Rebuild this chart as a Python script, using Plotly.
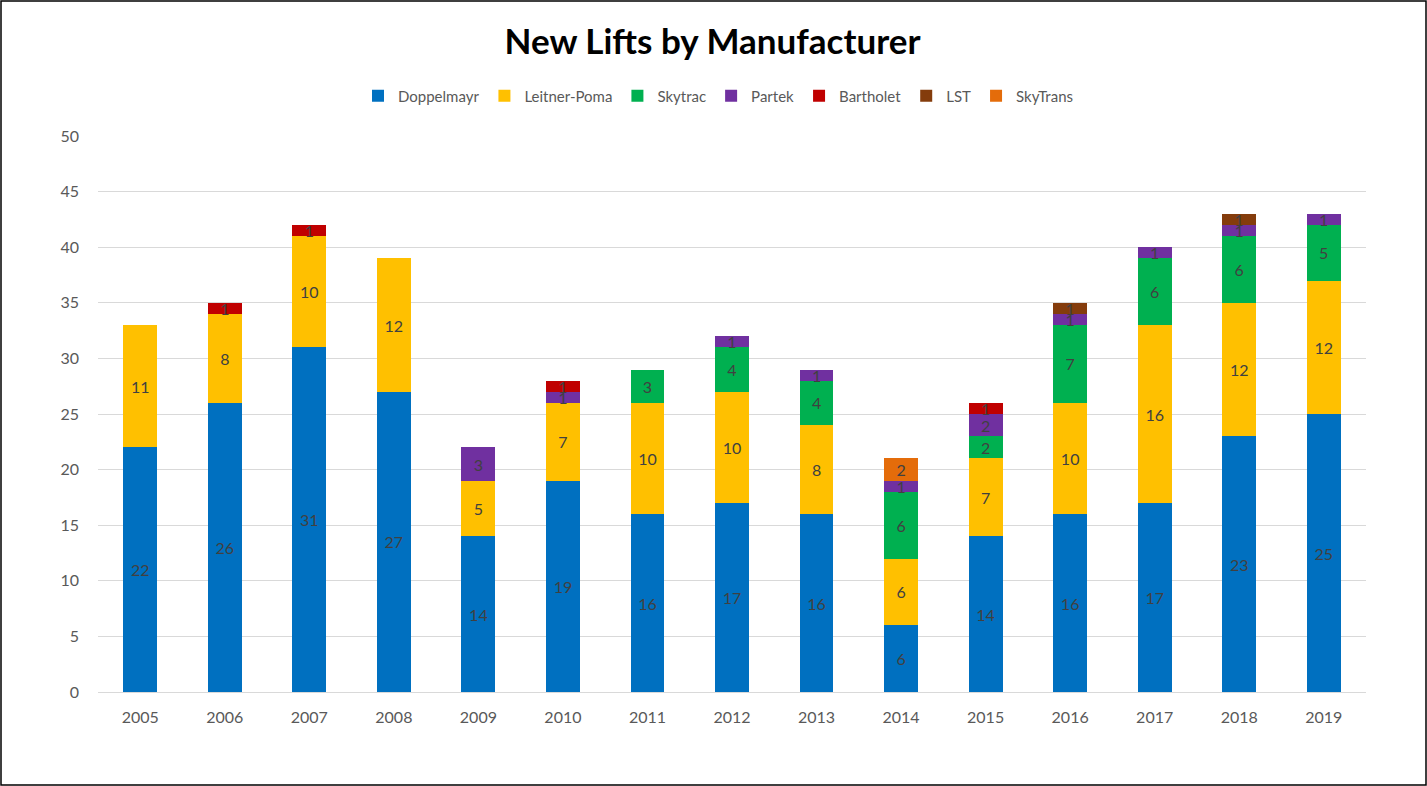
import plotly.graph_objects as go

years = ["2005","2006","2007","2008","2009","2010","2011","2012","2013","2014","2015","2016","2017","2018","2019"]
doppelmayr   = [22, 26, 31, 27, 14, 19, 16, 17, 16, 6, 14, 16, 17, 23, 25]
leitner_poma = [11, 8, 10, 12, 5, 7, 10, 10, 8, 6, 7, 10, 16, 12, 12]
skytrac      = [None, None, None, None, None, None, 3, 4, 4, 6, 2, 7, 6, 6, 5]
partek       = [None, None, None, None, 3, 1, None, 1, 1, 1, 2, 1, 1, 1, 1]
bartholet    = [None, 1, 1, None, None, 1, None, None, None, None, 1, None, None, None, None]
lst          = [None, None, None, None, None, None, None, None, None, None, None, 1, None, 1, None]
skytrans     = [None, None, None, None, None, None, None, None, None, 2, None, None, None, None, None]

series = [
    ("Doppelmayr", doppelmayr, "#0070C0"),
    ("Leitner-Poma", leitner_poma, "#FFC000"),
    ("Skytrac", skytrac, "#00B050"),
    ("Partek", partek, "#7030A0"),
    ("Bartholet", bartholet, "#C00000"),
    ("LST", lst, "#843C0C"),
    ("SkyTrans", skytrans, "#E46C0A"),
]

font = "Lato"
fig = go.Figure()
for name, vals, color in series:
    fig.add_trace(go.Bar(
        name=name, x=years, y=vals,
        marker=dict(color=color, line=dict(width=0)),
        text=[("" if v is None else str(v)) for v in vals],
        textposition="inside", insidetextanchor="middle",
        textfont=dict(color="#404040", size=16, family=font),
        textangle=0,
    ))

fig.update_layout(
    barmode="stack",
    bargap=0.6,
    width=1427, height=786,
    margin=dict(l=98, r=61, t=136, b=94, autoexpand=False),
    paper_bgcolor="white", plot_bgcolor="white",
    font=dict(family=font, color="#595959", size=16),
    title=dict(text="<b>New Lifts by Manufacturer</b>", x=712.5/1427, xanchor="center",
               y=1 - 42/786, yanchor="middle",
               font=dict(size=35, color="#000000", family=font)),
    legend=dict(orientation="h", x=(718.5-98)/1268, xanchor="center",
                y=1 + (136-96)/556, yanchor="middle",
                font=dict(size=15, color="#595959", family=font), traceorder="normal",
                itemwidth=30),
    uniformtext=dict(mode="show", minsize=16),
    showlegend=True,
)
fig.update_yaxes(range=[0, 50], dtick=5, showgrid=True, gridcolor="#D9D9D9", gridwidth=1,
                 zeroline=True, zerolinecolor="#D9D9D9", zerolinewidth=1,
                 ticks="", tickfont=dict(size=16, color="#595959"), ticklabelstandoff=18)
fig.update_xaxes(showline=True, linecolor="#D9D9D9", linewidth=1, ticks="",
                 tickfont=dict(size=16, color="#595959"), ticklabelstandoff=11)

fig.add_shape(type="rect", xref="paper", yref="paper",
              x0=(1-98)/1268, x1=(1426-98)/1268, y0=(692-785)/556, y1=(692-1)/556,
              line=dict(color="black", width=1.5), fillcolor="rgba(0,0,0,0)", layer="above")

fig.write_html("out.html", config={"displayModeBar": False},
               post_script="document.body.style.margin='0';document.body.style.overflow='hidden';")
